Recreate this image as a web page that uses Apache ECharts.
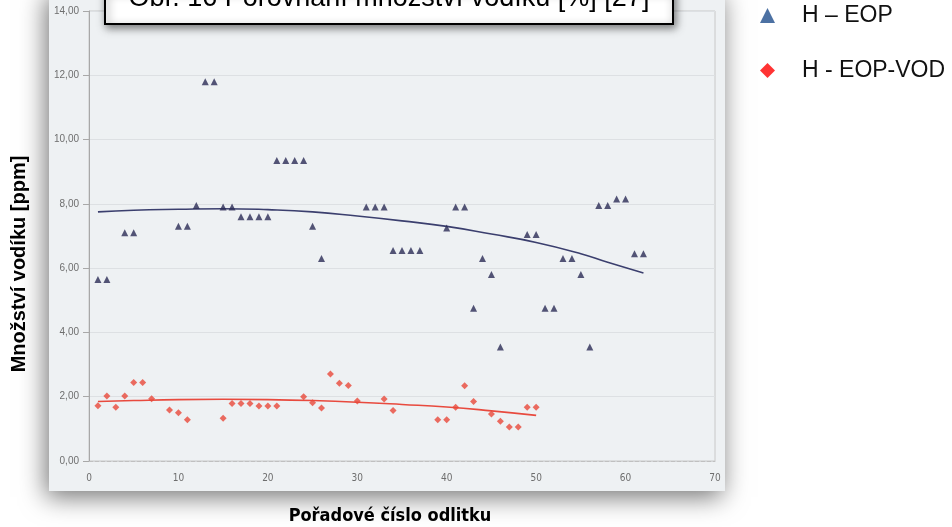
<!DOCTYPE html>
<html>
<head>
<meta charset="utf-8">
<script src="https://cdn.jsdelivr.net/npm/echarts@6/dist/echarts.min.js"></script>
<style>html,body{margin:0;padding:0;background:#fff;}#c{width:952px;height:527px;}</style>
</head>
<body>
<div id="c"></div>
<script>
// H – EOP (triangles)
const eopX = [1,2,4,5,10,11,12,13,14,15,16,17,18,19,20,21,22,23,24,25,26,31,32,33,34,35,36,37,40,41,42,43,44,45,46,49,50,51,52,53,54,55,56,57,58,59,60,61,62];
const eopY = [5.65,5.65,7.1,7.1,7.3,7.3,7.95,11.8,11.8,7.9,7.9,7.6,7.6,7.6,7.6,9.35,9.35,9.35,9.35,7.3,6.3,7.9,7.9,7.9,6.55,6.55,6.55,6.55,7.25,7.9,7.9,4.75,6.3,5.8,3.55,7.05,7.05,4.75,4.75,6.3,6.3,5.8,3.55,7.95,7.95,8.15,8.15,6.45,6.45];
// H - EOP-VOD (red)
const vodX = [1,2,3,4,5,6,7,9,10,11,15,16,17,18,19,20,21,24,25,26,27,28,29,30,33,34,39,40,41,42,43,45,46,47,48,49,50];
const vodY = [1.72,2.02,1.67,2.02,2.44,2.44,1.94,1.59,1.5,1.28,1.33,1.79,1.79,1.79,1.71,1.71,1.71,2.0,1.81,1.65,2.71,2.42,2.35,1.87,1.93,1.57,1.28,1.28,1.67,2.34,1.85,1.46,1.24,1.06,1.06,1.67,1.67];
// trend lines
const eopTrendX = [1,5,10,15,20,25,30,35,40,45,50,55,58,62];
const eopTrendY = [7.75,7.8,7.83,7.85,7.82,7.75,7.62,7.47,7.3,7.06,6.8,6.45,6.18,5.85];
const vodTrendX = [1,5,10,15,20,25,30,35,40,45,50];
const vodTrendY = [1.85,1.88,1.91,1.92,1.91,1.88,1.83,1.76,1.68,1.56,1.42];

const seriesNames = ['H – EOP', 'H - EOP-VOD'];
const titleText = 'Obr. 16 Porovnání množství vodíku [%] [27]';
const xTitle = 'Pořadové číslo odlitku';
const yTitle = 'Množství vodíku [ppm]';

const zip = (a, b) => a.map((v, i) => [v, b[i]]);
const chart = echarts.init(document.getElementById('c'), null, {renderer: 'canvas'});
const font = "'Liberation Sans', Arial, sans-serif";
const legendBase = {
  orient: 'vertical', left: 760, itemWidth: 15, itemHeight: 15, padding: 0,
  textStyle: {fontSize: 23, color: '#111', fontFamily: font, padding: [0, 0, 0, 22]}
};

chart.setOption({
  animation: false,
  backgroundColor: '#ffffff',
  textStyle: {fontFamily: font},
  graphic: [
    {type: 'rect', z: -10, silent: true,
     shape: {x: 49, y: -10, width: 676, height: 501},
     style: {fill: '#eef1f3', shadowBlur: 24, shadowColor: 'rgba(0,0,0,0.55)', shadowOffsetX: -3, shadowOffsetY: 6}},
    {type: 'rect', z: 100, silent: true,
     shape: {x: 105, y: -10, width: 568, height: 34},
     style: {fill: '#ffffff', stroke: '#000000', lineWidth: 2, shadowBlur: 8, shadowColor: 'rgba(0,0,0,0.5)', shadowOffsetX: 2, shadowOffsetY: 3}},
    {type: 'text', z: 101, silent: true, x: 389, y: -1,
     style: {text: titleText, font: "27px 'Liberation Sans', Arial, sans-serif", fill: '#000', align: 'center', verticalAlign: 'middle'}},
    {type: 'text', z: 101, silent: true, x: 19, y: 264, rotation: Math.PI / 2,
     style: {text: yTitle, font: "bold 20px 'Liberation Sans', Arial, sans-serif", fill: '#000', align: 'center', verticalAlign: 'middle'}},
    {type: 'text', z: 101, silent: true, x: 390, y: 516,
     style: {text: xTitle, font: "bold 18px 'Liberation Sans Narrow', 'DejaVu Sans Condensed', sans-serif", fill: '#000', align: 'center', verticalAlign: 'middle'}}
  ],
  legend: [
    Object.assign({}, legendBase, {top: 4, data: [{name: seriesNames[0], icon: 'triangle', itemStyle: {color: '#1f4e8c'}}]}),
    Object.assign({}, legendBase, {top: 59, data: [{name: seriesNames[1], icon: 'diamond', itemStyle: {color: '#ff0000'}}]})
  ],
  grid: {left: 89, right: 237, top: 11, bottom: 66, show: true, borderColor: '#c8c8c8', borderWidth: 1, backgroundColor: 'transparent'},
  xAxis: {
    type: 'value', min: 0, max: 70, interval: 10,
    axisLine: {show: true, lineStyle: {color: '#c0c0c0', type: 'dashed'}},
    axisTick: {show: false},
    axisLabel: {color: '#6e6e6e', fontSize: 10, margin: 12, fontFamily: "'Liberation Sans Narrow', 'DejaVu Sans Condensed', sans-serif"},
    splitLine: {show: false}
  },
  yAxis: {
    type: 'value', min: 0, max: 14, interval: 2,
    axisLine: {show: true, lineStyle: {color: '#a8a8a8'}},
    axisTick: {show: true, length: 6, lineStyle: {color: '#a8a8a8'}},
    axisLabel: {color: '#6e6e6e', fontSize: 10, margin: 10, formatter: v => v.toFixed(2).replace('.', ',')},
    splitLine: {show: true, lineStyle: {color: '#dde0e3', width: 1}}
  },
  series: [
    {name: seriesNames[0], type: 'scatter', symbol: 'triangle', symbolSize: 7, z: 5,
     itemStyle: {color: '#2a2c55'}, data: zip(eopX, eopY)},
    {name: seriesNames[1], type: 'scatter', symbol: 'diamond', symbolSize: 7, z: 5,
     itemStyle: {color: '#e8483a'}, data: zip(vodX, vodY)},
    {name: 'eopTrend', type: 'line', smooth: true, symbol: 'none', z: 4,
     lineStyle: {color: '#3b3f6e', width: 1.6}, data: zip(eopTrendX, eopTrendY)},
    {name: 'vodTrend', type: 'line', smooth: true, symbol: 'none', z: 4,
     lineStyle: {color: '#e84a3e', width: 1.6}, data: zip(vodTrendX, vodTrendY)}
  ]
});
</script>
</body>
</html>
